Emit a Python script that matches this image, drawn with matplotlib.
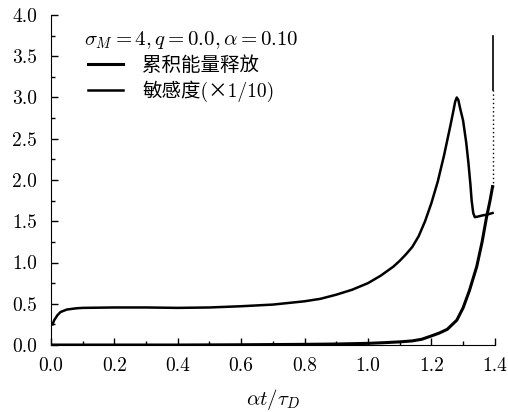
import numpy as np
import matplotlib as mpl
import matplotlib.pyplot as plt
from matplotlib.ticker import MultipleLocator

mpl.rcParams.update({
    "font.family": ["cmr10", "Noto Sans CJK SC", "DejaVu Sans"],
    "mathtext.fontset": "cm",
    "axes.formatter.use_mathtext": True,
    "axes.unicode_minus": False,
    "xtick.direction": "in", "ytick.direction": "in",
    "font.size": 14,
})

# sensitivity (x1/10)
sens_x = [0.005, 0.01, 0.02, 0.03, 0.05, 0.08, 0.1, 0.2, 0.3, 0.4, 0.5, 0.6, 0.7,
          0.8, 0.85, 0.9, 0.95, 1.0, 1.04, 1.08, 1.1, 1.12, 1.14, 1.16, 1.18, 1.2,
          1.22, 1.24, 1.25, 1.26, 1.27, 1.275, 1.28, 1.285, 1.29, 1.30, 1.31, 1.317,
          1.323, 1.327, 1.332, 1.337, 1.345, 1.36, 1.375, 1.393]
sens_y = [0.25, 0.30, 0.36, 0.40, 0.43, 0.445, 0.45, 0.455, 0.455, 0.45, 0.455, 0.47, 0.49,
          0.53, 0.56, 0.61, 0.67, 0.75, 0.84, 0.95, 1.02, 1.1, 1.19, 1.32, 1.5, 1.72,
          1.98, 2.3, 2.48, 2.66, 2.85, 2.95, 3.0, 2.97, 2.88, 2.72, 2.45, 2.2,
          1.95, 1.75, 1.6, 1.55, 1.555, 1.57, 1.58, 1.6]

# cumulative energy release
cum_x = [0.0, 0.4, 0.6, 0.8, 0.9, 1.0, 1.05, 1.1, 1.14, 1.17, 1.2, 1.225, 1.25, 1.28,
         1.30, 1.32, 1.343, 1.36, 1.374, 1.385, 1.393]
cum_y = [0.0, 0.0, 0.003, 0.008, 0.012, 0.02, 0.028, 0.038, 0.05, 0.07, 0.11, 0.145, 0.19, 0.30,
         0.45, 0.66, 0.95, 1.25, 1.55, 1.75, 1.92]

# blow-up at the end
t_end = 1.393
blow_dotted = [1.92, 3.09]
blow_solid = [3.09, 3.74]

fig = plt.figure(figsize=(5.08, 4.12), dpi=100)
ax = fig.add_axes([0.1004, 0.1626, 0.8736, 0.801])

l1, = ax.plot(cum_x, cum_y, color="black", lw=2.2)
l2, = ax.plot(sens_x, sens_y, color="black", lw=1.8)
ax.plot([t_end, t_end], blow_dotted, color="black", lw=1.0, ls=(0, (1, 2)))
ax.plot([t_end, t_end], blow_solid, color="black", lw=1.2)

ax.set_xlim(0, 1.4)
ax.set_ylim(0, 4.0)
ax.xaxis.set_major_locator(MultipleLocator(0.2))
ax.xaxis.set_minor_locator(MultipleLocator(0.1))
ax.yaxis.set_major_locator(MultipleLocator(0.5))
ax.yaxis.set_minor_locator(MultipleLocator(0.25))
ax.xaxis.set_major_formatter(mpl.ticker.FormatStrFormatter("%.1f"))
ax.yaxis.set_major_formatter(mpl.ticker.FormatStrFormatter("%.1f"))
ax.tick_params(which="major", length=5, width=1)
ax.tick_params(which="minor", length=3, width=1)
ax.tick_params(axis="y", pad=10)
ax.tick_params(axis="x", pad=9)
ax.spines[["top", "right"]].set_visible(False)
ax.set_xlabel(r"$\alpha t/\tau_D$", fontsize=15, labelpad=8)

ax.text(0.105, 3.64, r"$\sigma_M = 4, q = 0.0, \alpha = 0.10$", fontsize=15)
ax.legend([l1, l2], ["累积能量释放", "敏感度(×1/10)"], loc="upper left",
          bbox_to_anchor=(0.083, 0.875), frameon=False, handlelength=1.8,
          handletextpad=1.0, labelspacing=0.3, borderpad=0, borderaxespad=0,
          fontsize=14)

fig.savefig("out.png", dpi=100)
